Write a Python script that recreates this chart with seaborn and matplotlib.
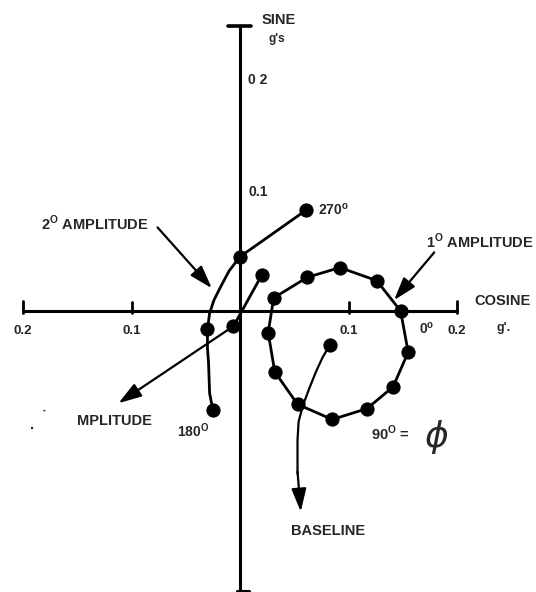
import numpy as np
import pandas as pd
import matplotlib
matplotlib.use("Agg")
import matplotlib.pyplot as plt
import seaborn as sns

sns.set_style("white")
plt.rcParams['font.family'] = ['Liberation Sans', 'DejaVu Sans']

# 1 deg amplitude loop (cosine, sine in g's), 0 deg first, every 30 deg
loop_cos = [0.148, 0.155, 0.141, 0.117, 0.085, 0.053, 0.032, 0.026, 0.031, 0.062, 0.092, 0.126, 0.148]
loop_sin = [0.000, -0.038, -0.070, -0.090, -0.100, -0.086, -0.056, -0.020, 0.012, 0.031, 0.040, 0.028, 0.000]

# 2 deg amplitude curve (270 deg ... 180 deg), traced path and measured points
amp2_path_cos = [0.061, 0.0, -0.010, -0.018, -0.024, -0.028, -0.030, -0.030, -0.029, -0.028, -0.025]
amp2_path_sin = [0.093, 0.050, 0.037, 0.022, 0.010, -0.002, -0.017, -0.034, -0.048, -0.076, -0.091]
amp2_pts_cos = [0.061, 0.0, -0.030, -0.025]
amp2_pts_sin = [0.093, 0.050, -0.017, -0.091]

# third short curve
amp3_cos = [0.020, -0.006]
amp3_sin = [0.033, -0.014]

# baseline point and its pointer curve
base_cos = [0.083]
base_sin = [-0.031]
base_path_cos = [0.083, 0.076, 0.070, 0.064, 0.058, 0.054, 0.053, 0.053]
base_path_sin = [-0.031, -0.043, -0.056, -0.071, -0.087, -0.102, -0.119, -0.150]

x_tick_vals = [-0.2, -0.1, 0.1, 0.2]
x_tick_labels = ["0.2", "0.1", "0.1", "0.2"]

fig = plt.figure(figsize=(5.36, 5.92), dpi=100)
ax = fig.add_axes([0, 0, 1, 1])
ax.set_xlim(-0.2212, 0.2728)
ax.set_ylim(-0.259, 0.2866)
ax.axis('off')

k = 'black'
# axes drawn by hand like the original sketch
ax.plot([-0.2, 0.2], [0, 0], color=k, lw=2.2)
ax.plot([0, 0], [-0.258, 0.2627], color=k, lw=2.2)
ax.plot([-0.011, 0.010], [0.2627, 0.2627], color=k, lw=2.6)
ax.plot([-0.003, 0.008], [-0.258, -0.258], color=k, lw=2.2)
for xv in x_tick_vals:
    top = 0.008 if abs(xv) < 0.15 else 0.009
    ax.plot([xv, xv], [-0.002, top], color=k, lw=2.0)
for xv, lab in zip(x_tick_vals, x_tick_labels):
    ax.text(xv, -0.018, lab, ha='center', va='center', fontsize=9.5, fontweight='bold')

# curves
loop_df = pd.DataFrame({'c': loop_cos, 's': loop_sin})
sns.lineplot(data=loop_df, x='c', y='s', sort=False, estimator=None, color=k, lw=2.0, ax=ax)
sns.scatterplot(data=loop_df.iloc[:-1], x='c', y='s', color=k, s=90, edgecolor=k, zorder=5, ax=ax)

sns.lineplot(x=amp2_path_cos, y=amp2_path_sin, sort=False, estimator=None, color=k, lw=2.0, ax=ax)
sns.scatterplot(x=amp2_pts_cos, y=amp2_pts_sin, color=k, s=90, edgecolor=k, zorder=5, ax=ax)

sns.lineplot(x=amp3_cos, y=amp3_sin, sort=False, estimator=None, color=k, lw=2.0, ax=ax)
sns.scatterplot(x=amp3_cos, y=amp3_sin, color=k, s=90, edgecolor=k, zorder=5, ax=ax)

sns.lineplot(x=base_path_cos, y=base_path_sin, sort=False, estimator=None, color=k, lw=1.6, ax=ax)
sns.scatterplot(x=base_cos, y=base_sin, color=k, s=90, edgecolor=k, zorder=5, ax=ax)

arrow = dict(arrowstyle='-|>,head_length=1.4,head_width=0.45', color=k, lw=1.6, shrinkA=0, shrinkB=0)
ax.annotate('', xy=(0.056, -0.185), xytext=(0.053, -0.148), arrowprops=arrow)
ax.annotate('', xy=(-0.112, -0.085), xytext=(-0.006, -0.014), arrowprops=arrow)
ax.annotate('', xy=(-0.026, 0.021), xytext=(-0.076, 0.077), arrowprops=arrow)
ax.annotate('', xy=(0.142, 0.010), xytext=(0.179, 0.054), arrowprops=arrow)

# labels
fs = 10.5
ax.text(0.036, 0.268, "SINE", ha='center', va='center', fontsize=10.5, fontweight='bold')
ax.text(0.034, 0.251, "g's", ha='center', va='center', fontsize=8.5, fontweight='bold')
ax.text(0.007, 0.213, "0 2", ha='left', va='center', fontsize=10, fontweight='bold')
ax.text(0.008, 0.110, "0.1", ha='left', va='center', fontsize=10, fontweight='bold')
ax.text(0.242, 0.009, "COSINE", ha='center', va='center', fontsize=fs, fontweight='bold')
ax.text(0.243, -0.016, "g'.", ha='center', va='center', fontsize=9, fontweight='bold')
ax.text(0.172, -0.016, r"0$^{\mathregular{o}}$", ha='center', va='center', fontsize=10, fontweight='bold')
ax.text(0.072, 0.093, r"270$^{\mathregular{o}}$", ha='left', va='center', fontsize=10, fontweight='bold')
ax.text(-0.134, 0.081, r"2$^{\mathregular{O}}$ AMPLITUDE", ha='center', va='center', fontsize=fs, fontweight='bold')
ax.text(0.221, 0.064, r"1$^{\mathregular{O}}$ AMPLITUDE", ha='center', va='center', fontsize=fs, fontweight='bold')
ax.text(-0.116, -0.101, "MPLITUDE", ha='center', va='center', fontsize=fs, fontweight='bold')
ax.text(-0.192, -0.105, ".", ha='center', va='center', fontsize=fs, fontweight='bold')
ax.text(-0.181, -0.097, "\u02d9", ha='center', va='center', fontsize=fs, fontweight='bold')
ax.text(-0.043, -0.110, r"180$^{\mathregular{O}}$", ha='center', va='center', fontsize=10, fontweight='bold')
ax.text(0.121, -0.113, r"90$^{\mathregular{O}}$ =", ha='left', va='center', fontsize=fs, fontweight='bold')
ax.text(0.170, -0.116, r"$\phi$", ha='left', va='center', fontsize=26)
ax.text(0.081, -0.203, "BASELINE", ha='center', va='center', fontsize=fs, fontweight='bold')

fig.savefig("out.png", dpi=100, facecolor='white')
